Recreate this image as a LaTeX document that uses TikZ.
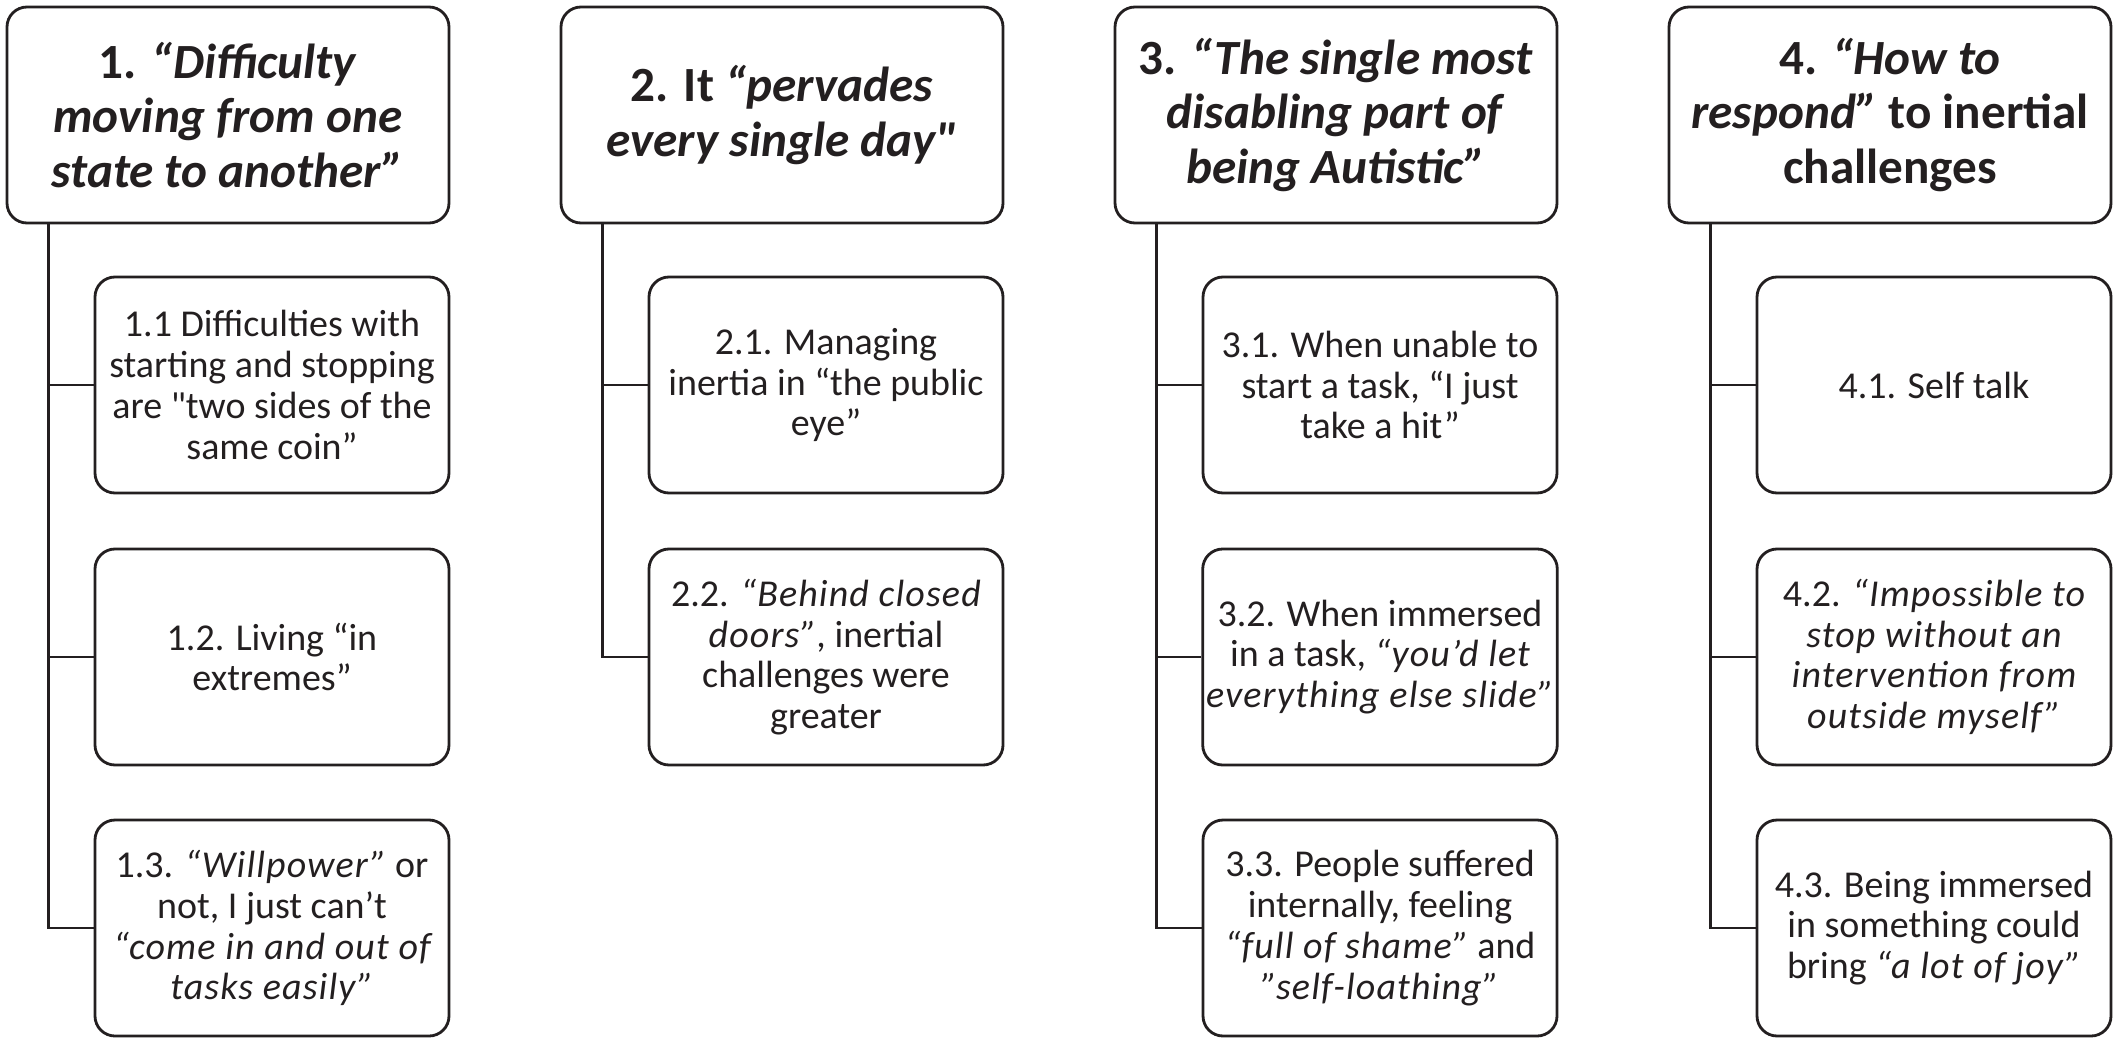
\documentclass[tikz,border=0pt]{standalone}
\usepackage{fontspec}
\setmainfont{Carlito}[Ligatures=TeXOff]
\usepackage{xcolor}
\usepackage{tikz}
\definecolor{textblack}{RGB}{35, 31, 32}
\newcommand{\qt}[1]{{\itshape\addfontfeatures{LetterSpace=3}#1}}

\begin{document}
\begin{tikzpicture}[
        theme/.style={rectangle, rounded corners=0.2cm, draw=textblack, line width=0.8pt, minimum width=4.42cm, minimum height=2.16cm, align=center, text=textblack, font=\fontsize{14}{15.4}\selectfont\bfseries},
        subtheme/.style={rectangle, rounded corners=0.2cm, draw=textblack, line width=0.8pt, minimum width=3.54cm, minimum height=2.16cm, inner xsep=1pt, align=center, text=textblack, font=\fontsize{10.8}{11.6}\selectfont},
        branch/.style={draw=textblack, line width=0.8pt}
    ]
    \useasboundingbox (0,0) rectangle (21.19,-10.45);

    % Main themes
    \node[theme] (theme1) at (2.28, -1.15) {1. \textit{“Difficulty}\\ \textit{moving from one}\\ \textit{state to another”}};
    \node[theme] (theme2) at (7.82, -1.15) {2. It \textit{“pervades}\\ \textit{every single day"}};
    \node[theme] (theme3) at (13.36, -1.15) {3. \textit{“The single most}\\ \textit{disabling part of}\\ \textit{being Autistic”}};
    \node[theme] (theme4) at (18.90, -1.15) {4. \textit{“How to}\\ \textit{respond”} to inertial\\ challenges};

    % Subthemes of 1
    \node[subtheme] (sub11) at (2.72, -3.85) {1.1 Difficulties with\\ starting and stopping\\ are "two sides of the\\ same coin”};
    \node[subtheme] (sub12) at (2.72, -6.57) {1.2. Living “in\\ extremes”};
    \node[subtheme] (sub13) at (2.72, -9.28) {1.3. \qt{“Willpower”} or\\ not, I just can’t\\ \qt{“come in and out of}\\ \qt{tasks easily”}};

    % Subthemes of 2
    \node[subtheme] (sub21) at (8.26, -3.85) {2.1. Managing\\ inertia in “the public\\ eye”};
    \node[subtheme] (sub22) at (8.26, -6.57) {2.2. \qt{“Behind closed}\\ \qt{doors”}, inertial\\ challenges were\\ greater};

    % Subthemes of 3
    \node[subtheme] (sub31) at (13.80, -3.85) {3.1. When unable to\\ start a task, “I just\\ take a hit”};
    \node[subtheme] (sub32) at (13.80, -6.57) {3.2. When immersed\\ in a task, \qt{“you’d let}\\ \qt{everything else slide”}};
    \node[subtheme] (sub33) at (13.80, -9.28) {3.3. People suffered\\ internally, feeling\\ \qt{“full of shame”} and\\ \qt{”self-loathing”}};

    % Subthemes of 4
    \node[subtheme] (sub41) at (19.34, -3.85) {4.1. Self talk};
    \node[subtheme] (sub42) at (19.34, -6.57) {4.2. \qt{“Impossible to}\\ \qt{stop without an}\\ \qt{intervention from}\\ \qt{outside myself”}};
    \node[subtheme] (sub43) at (19.34, -9.28) {4.3. Being immersed\\ in something could\\ bring \qt{“a lot of joy”}};

    % Trunks
    \draw[branch] (theme1.south west) ++(0.43,0) coordinate (trunk1) |- (sub13.west);
    \draw[branch] (theme2.south west) ++(0.43,0) coordinate (trunk2) |- (sub22.west);
    \draw[branch] (theme3.south west) ++(0.43,0) coordinate (trunk3) |- (sub33.west);
    \draw[branch] (theme4.south west) ++(0.43,0) coordinate (trunk4) |- (sub43.west);

    % Branches
    \draw[branch] (sub11.west) -- (sub11.west -| trunk1);
    \draw[branch] (sub12.west) -- (sub12.west -| trunk1);
    \draw[branch] (sub21.west) -- (sub21.west -| trunk2);
    \draw[branch] (sub31.west) -- (sub31.west -| trunk3);
    \draw[branch] (sub32.west) -- (sub32.west -| trunk3);
    \draw[branch] (sub41.west) -- (sub41.west -| trunk4);
    \draw[branch] (sub42.west) -- (sub42.west -| trunk4);

\end{tikzpicture}
\end{document}
